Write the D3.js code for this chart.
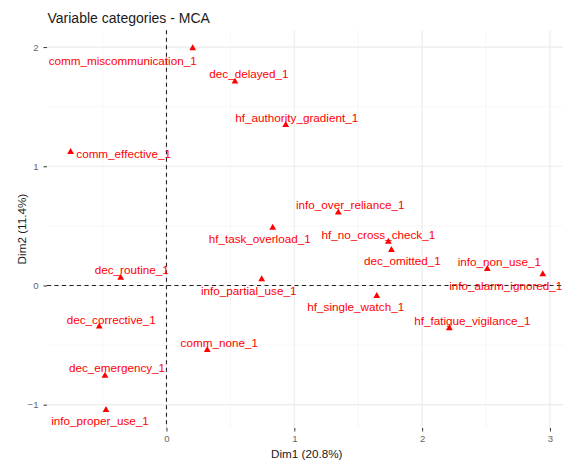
<!DOCTYPE html>
<html>
<head>
<meta charset="utf-8">
<script src="https://cdn.jsdelivr.net/npm/d3@7"></script>
<style>
  body { margin: 0; background: #fff; }
  svg { display: block; font-family: "Liberation Sans", Arial, sans-serif; }
</style>
</head>
<body>
<svg id="chart" width="563" height="460"></svg>
<script>
// MCA variable categories (Dim1, Dim2 coordinates)
const categories = [
  "comm_miscommunication_1", "dec_delayed_1", "hf_authority_gradient_1",
  "comm_effective_1", "info_over_reliance_1", "hf_task_overload_1",
  "hf_no_cross_check_1", "dec_omitted_1", "info_non_use_1",
  "info_alarm_ignored_1", "hf_single_watch_1", "hf_fatigue_vigilance_1",
  "dec_routine_1", "info_partial_use_1", "dec_corrective_1",
  "comm_none_1", "dec_emergency_1", "info_proper_use_1"
];
const dim1 = [0.205, 0.536, 0.933, -0.750, 1.344, 0.831, 1.736, 1.760, 2.510,
  2.944, 1.645, 2.213, -0.358, 0.745, -0.526, 0.319, -0.481, -0.473];
const dim2 = [1.990, 1.710, 1.346, 1.120, 0.612, 0.485, 0.367, 0.298, 0.138,
  0.094, -0.088, -0.359, 0.065, 0.052, -0.345, -0.541, -0.757, -1.044];

const xTicks = [0, 1, 2, 3];
const yTicks = [-1, 0, 1, 2];

// repelled label offsets (px) from each point, like ggrepel placed them
const labelDx = [-70, 14, 11, 53, 12, -13, -10, 11, 12, -37, -21, 23, 11, -13, 12, 12, 12, -6];
const labelDy = [12, -8, -8, 2, -8, 11, -7.5, 11, -8, 11, 11, -8, -8.5, 11.5, -7.5, -7.5, -8, 11];

const svg = d3.select("#chart");
const panel = { left: 47, right: 566.4, top: 30.2, bottom: 428 };

const expand = (ext) => {
  const pad = (ext[1] - ext[0]) * 0.05;
  return [ext[0] - pad, ext[1] + pad];
};

const x = d3.scaleLinear().domain(expand(d3.extent(dim1))).range([panel.left, panel.right]);
const y = d3.scaleLinear().domain(expand(d3.extent(dim2))).range([panel.bottom, panel.top]);

const data = categories.map((c, i) => ({ name: c, x: dim1[i], y: dim2[i], dx: labelDx[i], dy: labelDy[i] }));

// grid
const grid = svg.append("g");
const minorX = d3.range(-0.5, 3.5, 1).filter(v => v > x.domain()[0] && v < x.domain()[1]);
const minorY = d3.range(-0.5, 2.5, 1).filter(v => v > y.domain()[0] && v < y.domain()[1]);
grid.selectAll(".mx").data(minorX).join("line")
  .attr("x1", d => x(d)).attr("x2", d => x(d))
  .attr("y1", panel.top).attr("y2", panel.bottom)
  .attr("stroke", "#f2f2f2").attr("stroke-width", 0.6);
grid.selectAll(".my").data(minorY).join("line")
  .attr("y1", d => y(d)).attr("y2", d => y(d))
  .attr("x1", panel.left).attr("x2", panel.right)
  .attr("stroke", "#f2f2f2").attr("stroke-width", 0.6);
grid.selectAll(".gx").data(xTicks).join("line")
  .attr("x1", d => x(d)).attr("x2", d => x(d))
  .attr("y1", panel.top).attr("y2", panel.bottom)
  .attr("stroke", "#ebebeb").attr("stroke-width", 1.1);
grid.selectAll(".gy").data(yTicks).join("line")
  .attr("y1", d => y(d)).attr("y2", d => y(d))
  .attr("x1", panel.left).attr("x2", panel.right)
  .attr("stroke", "#ebebeb").attr("stroke-width", 1.1);

// axes (ticks + labels, no domain line)
const xAxis = svg.append("g")
  .attr("transform", `translate(0,${panel.bottom})`)
  .call(d3.axisBottom(x).tickValues(xTicks).tickSize(3.5).tickPadding(4).tickFormat(d3.format("d")));
const yAxis = svg.append("g")
  .attr("transform", `translate(${panel.left},0)`)
  .call(d3.axisLeft(y).tickValues(yTicks).tickSize(3.5).tickPadding(5).tickFormat(d3.format("d")));
[xAxis, yAxis].forEach(a => {
  a.select(".domain").remove();
  a.selectAll(".tick line").attr("stroke", "#333").attr("stroke-width", 1);
  a.selectAll(".tick text").attr("fill", "#666").attr("font-size", 9.6)
    .attr("font-family", "'Liberation Sans', Arial, sans-serif");
});

// reference lines
svg.append("line")
  .attr("x1", x(0)).attr("x2", x(0)).attr("y1", panel.top).attr("y2", panel.bottom)
  .attr("stroke", "#222").attr("stroke-width", 1.1).attr("stroke-dasharray", "4,3.5");
svg.append("line")
  .attr("y1", y(0)).attr("y2", y(0)).attr("x1", panel.left).attr("x2", panel.right)
  .attr("stroke", "#222").attr("stroke-width", 1.1).attr("stroke-dasharray", "4,3.5");

// points
svg.append("g").selectAll("path").data(data).join("path")
  .attr("d", d3.symbol(d3.symbolTriangle, 20))
  .attr("transform", d => `translate(${x(d.x)},${y(d.y)})`)
  .attr("fill", "#ff0000");

// labels
svg.append("g").selectAll("text").data(data).join("text")
  .attr("x", d => x(d.x) + d.dx)
  .attr("y", d => y(d.y) + d.dy)
  .attr("text-anchor", "middle")
  .attr("dominant-baseline", "central")
  .attr("font-size", 11.7)
  .attr("fill", "#ff0000")
  .text(d => d.name);

// titles
svg.append("text")
  .attr("x", 47.5).attr("y", 22.5)
  .attr("font-size", 14).attr("fill", "#1a1a1a")
  .text("Variable categories - MCA");
svg.append("text")
  .attr("x", (panel.left + panel.right) / 2).attr("y", 457.5)
  .attr("text-anchor", "middle").attr("font-size", 11.7).attr("fill", "#1a1a1a")
  .text("Dim1 (20.8%)");
svg.append("text")
  .attr("transform", `translate(26,${(panel.top + panel.bottom) / 2}) rotate(-90)`)
  .attr("text-anchor", "middle").attr("font-size", 11.7).attr("fill", "#1a1a1a")
  .text("Dim2 (11.4%)");
</script>
</body>
</html>
